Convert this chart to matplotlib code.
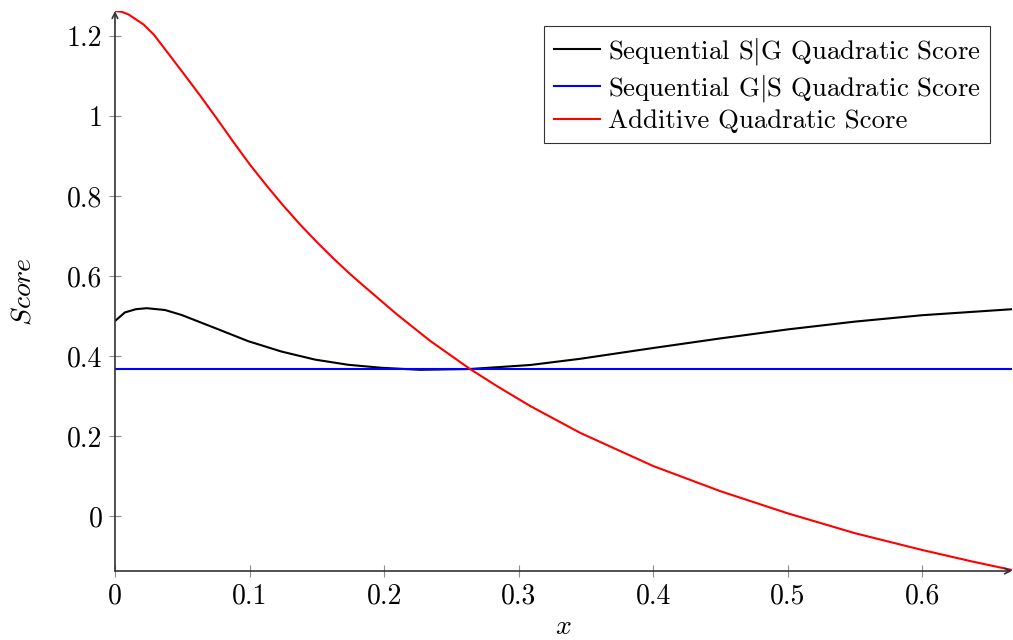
import numpy as np
import matplotlib
matplotlib.use('Agg')
import matplotlib.pyplot as plt

# values
x_add = [0, 0.005, 0.01, 0.0212, 0.029, 0.0372, 0.0508, 0.0632, 0.0756, 0.088, 0.1004,
         0.1128, 0.1251, 0.1375, 0.15, 0.1623, 0.1747, 0.1846, 0.2094, 0.2342, 0.2639,
         0.2838, 0.3086, 0.3457, 0.4, 0.45, 0.5, 0.55, 0.6, 0.6375, 0.6667]
y_add = [1.2625, 1.2605, 1.254, 1.229, 1.203, 1.167, 1.107, 1.0515, 0.994, 0.935, 0.878,
         0.8255, 0.776, 0.729, 0.685, 0.644, 0.605, 0.576, 0.5045, 0.438, 0.3675,
         0.325, 0.275, 0.208, 0.125, 0.062, 0.0067, -0.043, -0.085, -0.114, -0.135]

x_sg = [0, 0.0074, 0.0155, 0.0236, 0.0372, 0.0496, 0.0743, 0.0991, 0.1239, 0.1487,
        0.1735, 0.1983, 0.2268, 0.2639, 0.3086, 0.3457, 0.4, 0.45, 0.5, 0.55, 0.6, 0.6667]
y_sg = [0.4875, 0.509, 0.517, 0.5195, 0.515, 0.5025, 0.47, 0.437, 0.411, 0.391,
        0.378, 0.3705, 0.3655, 0.3675, 0.3775, 0.393, 0.42, 0.444, 0.4665, 0.486, 0.502, 0.517]

x_gs = [0, 0.6667]
y_gs = [0.3675, 0.3675]

labels = [r'Sequential S$|$G Quadratic Score',
          r'Sequential G$|$S Quadratic Score',
          'Additive Quadratic Score']
xticks = [0, 0.1, 0.2, 0.3, 0.4, 0.5, 0.6]
yticks = [0, 0.2, 0.4, 0.6, 0.8, 1.0, 1.2]
xtick_labels = ['0', '0.1', '0.2', '0.3', '0.4', '0.5', '0.6']
ytick_labels = ['0', '0.2', '0.4', '0.6', '0.8', '1', '1.2']

plt.rcParams['font.family'] = 'serif'
plt.rcParams['font.serif'] = ['cmr10']
plt.rcParams['mathtext.fontset'] = 'cm'
plt.rcParams['axes.unicode_minus'] = False

fig = plt.figure(figsize=(10.13, 6.4), dpi=100)
ax = fig.add_axes([0.1135, 0.1078, 0.8855, 0.875])

ax.plot(x_sg, y_sg, color='black', lw=1.5, label=labels[0])
ax.plot(x_gs, y_gs, color='blue', lw=1.5, label=labels[1])
ax.plot(x_add, y_add, color='red', lw=1.5, label=labels[2])

ax.set_xlim(0, 0.6667)
ax.set_ylim(-0.1375, 1.2625)

ax.set_xticks(xticks)
ax.set_xticklabels(xtick_labels)
ax.set_yticks(yticks)
ax.set_yticklabels(ytick_labels)
ax.tick_params(direction='inout', length=8, width=0.8, color='0.55',
               labelsize=20, pad=5)

for s in ['top', 'right', 'bottom', 'left']:
    ax.spines[s].set_visible(False)

# axis lines with arrow heads
ax.annotate('', xy=(1, 0), xytext=(0, 0), xycoords='axes fraction',
            arrowprops=dict(arrowstyle='->', lw=1.2, color='0.2',
                            shrinkA=0, shrinkB=0), annotation_clip=False)
ax.annotate('', xy=(0, 1), xytext=(0, 0), xycoords='axes fraction',
            arrowprops=dict(arrowstyle='->', lw=1.2, color='0.2',
                            shrinkA=0, shrinkB=0), annotation_clip=False)

ax.set_xlabel(r'$x$', fontsize=20, labelpad=3)
ax.set_ylabel(r'$Score$', fontsize=20, labelpad=22)

leg = ax.legend(loc='upper right', bbox_to_anchor=(0.9755, 0.973), fontsize=19.3,
                frameon=True, fancybox=False, edgecolor='black',
                handlelength=1.7, handletextpad=0.3, borderpad=0.36,
                labelspacing=0.22, borderaxespad=0)
leg.get_frame().set_linewidth(0.8)

fig.savefig('out.png', dpi=100)
